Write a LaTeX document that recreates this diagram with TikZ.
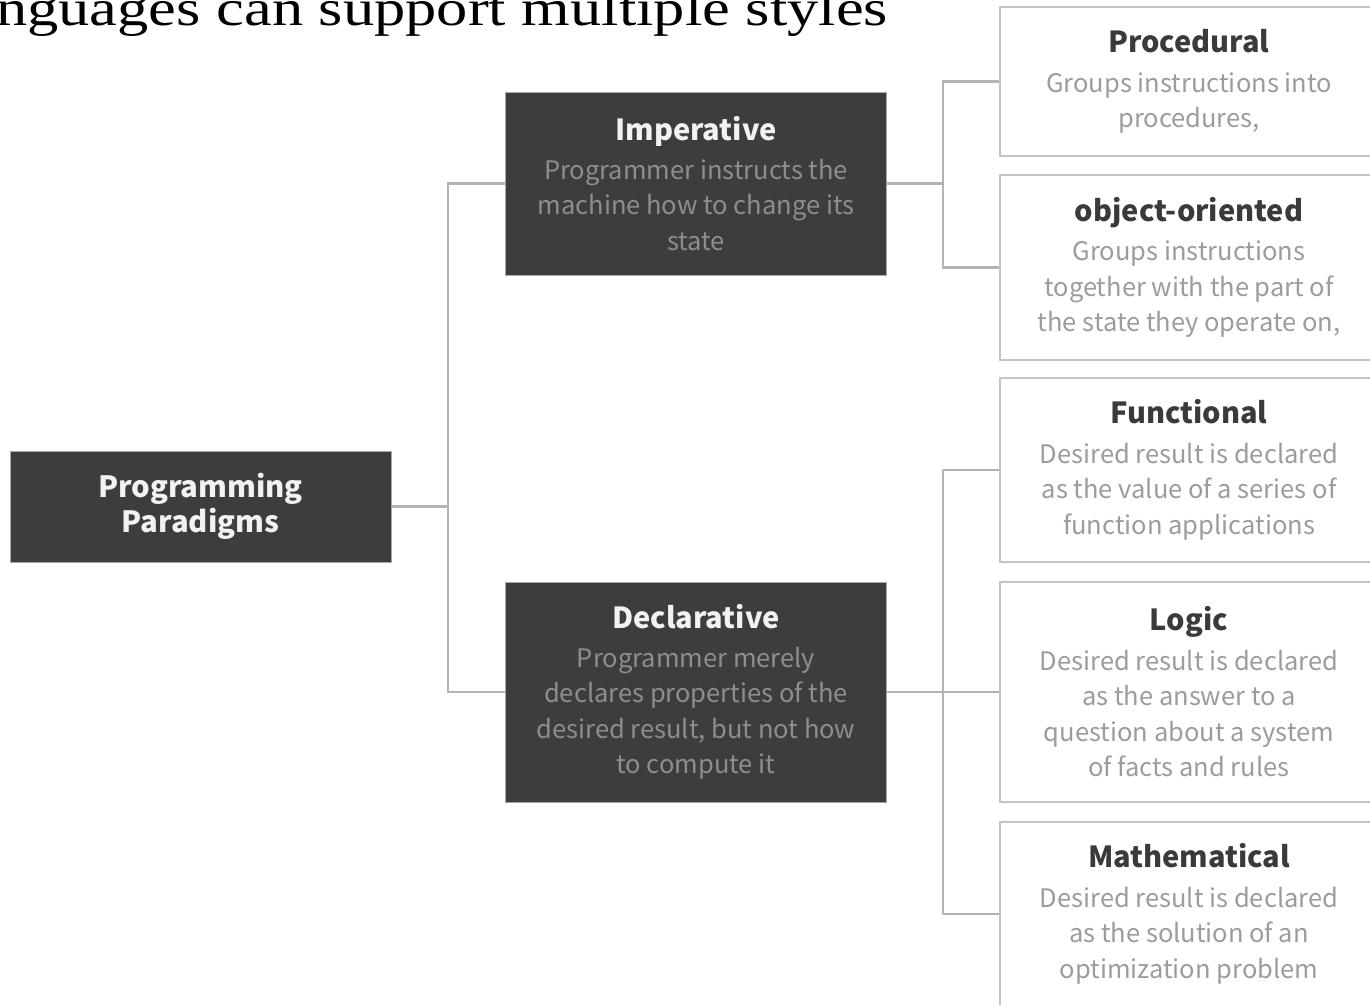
\documentclass[tikz,border=0pt]{standalone}
\usepackage{fontspec}
\usepackage{graphicx}
\newfontfamily\cjkfont{Noto Sans CJK SC}
\newfontfamily\seriffnt{Liberation Serif}
\definecolor{darkbox}{HTML}{3D3D3D}
\definecolor{darkedge}{HTML}{A8A8A8}
\definecolor{darkdesc}{HTML}{8E8E8E}
\definecolor{lightedge}{HTML}{C4C4C4}
\definecolor{lightdesc}{HTML}{9C9C9C}
\definecolor{lighttitle}{HTML}{3A3A3A}
\definecolor{conncol}{HTML}{B4B4B4}
\newcommand\descfnt{\cjkfont\fontsize{25.5}{35.5}\selectfont}
\newcommand\dttl[1]{{\color{white!95!black}\bfseries\fontsize{29}{35.5}\selectfont #1}}
\newcommand\lttl[1]{{\color{lighttitle}\bfseries\fontsize{29}{35.5}\selectfont #1}}
\tikzset{
  darkbox/.style={draw=darkedge, line width=1pt, fill=darkbox, inner sep=0pt,
    align=center, text=darkdesc, font=\descfnt, minimum width=381pt},
  lightbox/.style={draw=lightedge, line width=2pt, fill=white, inner sep=0pt,
    align=center, text=lightdesc, font=\descfnt, minimum width=378pt},
  conn/.style={draw=conncol, line width=2.5pt}
}
\begin{document}
\begin{tikzpicture}[x=1pt,y=-1pt]
\useasboundingbox (0,0) rectangle (1370,1004);
\fill[white] (0,0) rectangle (1370,1004);
\clip (0,0) rectangle (1370,1004);

\node[anchor=base west, inner sep=0pt, font=\seriffnt\fontsize{51}{55}\selectfont] (title) at (-4,25)
  {\scalebox{1.225}[1]{nguages can support multiple styles}};

% root
\node[darkbox, minimum width=381pt, minimum height=111pt,
  font=\cjkfont\bfseries\fontsize{29.3}{35}\selectfont, text=white!95!black] (root) at (200.5,506.5)
  {Programming\\Paradigms};

% second level
\node[darkbox, minimum height=183pt] (imp) at (696,183.5)
  {\dttl{Imperative}\\[3.5pt]Programmer instructs the\\machine how to change its\\state};
\node[darkbox, minimum height=220pt] (decl) at (696,692)
  {\dttl{Declarative}\\[3.5pt]Programmer merely\\declares properties of the\\desired result, but not how\\to compute it};

% third level
\node[lightbox, minimum height=149pt] (proc) at (1189,81.5)
  {\lttl{Procedural}\\[4pt]Groups instructions into\\procedures,};
\node[lightbox, minimum height=185pt] (oo) at (1189,267.5)
  {\lttl{object-oriented}\\[4pt]Groups instructions\\together with the part of\\the state they operate on,};
\node[lightbox, minimum height=184pt] (fun) at (1189,470)
  {\lttl{Functional}\\[4pt]Desired result is declared\\as the value of a series of\\function applications};
\node[lightbox, minimum height=220pt] (logic) at (1189,692)
  {\lttl{Logic}\\[4pt]Desired result is declared\\as the answer to a\\question about a system\\of facts and rules};
\node[lightbox, minimum height=184pt] (math) at (1189,914)
  {\lttl{Mathematical}\\[4pt]Desired result is declared\\as the solution of an\\optimization problem};

% junctions
\coordinate (ja) at (448,506.5);
\coordinate (jb) at (943,183.5);
\coordinate (jc) at (943,692);

% connectors
\draw[conn] (root.east) -- (ja);
\draw[conn] (imp.west) -| (ja) |- (decl.west);
\draw[conn] (imp.east) -- (jb);
\draw[conn] (proc.west) -| (jb) |- (oo.west);
\draw[conn] (decl.east) -- (logic.west);
\draw[conn] (fun.west) -| (jc) |- (math.west);
\end{tikzpicture}
\end{document}
